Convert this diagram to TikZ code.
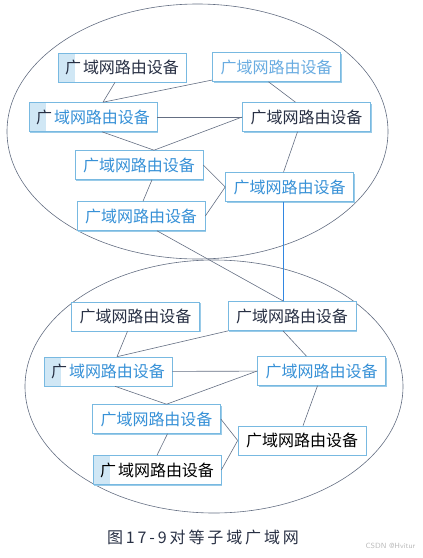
\documentclass[tikz,border=0pt]{standalone}
\usepackage{fontspec}
\newfontfamily\cjk{Noto Sans CJK SC}
\newfontfamily\cjkweit[LetterSpace=18]{Noto Sans CJK SC}
\usepackage{tikz}
\usetikzlibrary{shadows}

\definecolor{textblau}{RGB}{55,145,215}
\definecolor{textdunkel}{RGB}{40,48,68}
\definecolor{rahmen}{RGB}{120,185,225}
\definecolor{linie}{RGB}{100,110,130}
\definecolor{senkrecht}{RGB}{50,135,225}

\begin{document}
\begin{tikzpicture}[x=1pt,y=-1pt,line width=0.6pt,
  geraet/.style={draw=rahmen,fill=white,minimum width=128pt,minimum height=29pt,inner xsep=4pt,
    font=\cjk\fontsize{16}{18}\selectfont,
    general shadow={fill=rahmen!75,shadow xshift=1.2pt,shadow yshift=-1.2pt}},
  gblau/.style={geraet,text=textblau},
  gdunkel/.style={geraet,text=textdunkel},
  markiert/.style={path picture={\fill[rahmen!35] (path picture bounding box.north west) rectangle ([xshift=17pt]path picture bounding box.south west);}},
  verbindung/.style={draw=linie,line width=0.6pt},
  oval/.style={draw=linie,line width=0.6pt}]

\useasboundingbox (0,0) rectangle (423,558);

% Teilnetze als Ellipsen
\draw[oval] (197.5,131.5) ellipse [x radius=190.5pt, y radius=127.5pt];
\draw[oval] (214,386.5) ellipse [x radius=189pt, y radius=126.5pt];

% Geräte im oberen Teilnetz
\node[gdunkel,markiert] (o1) at (122,67.5) {广\hspace{2pt}域网路由设备};
\node[geraet,text=textblau!75] (o2) at (276.5,67) {广域网路由设备};
\node[gblau,markiert] (o3) at (93,117) {\textcolor{textdunkel}{广}\hspace{2pt}域网路由设备};
\node[gdunkel] (o4) at (306.5,117) {广域网路由设备};
\node[gblau] (o5) at (139,165) {广域网路由设备};
\node[gblau] (o6) at (289.5,187) {广域网路由设备};
\node[gblau] (o7) at (141,216) {广域网路由设备};

% Geräte im unteren Teilnetz
\node[gdunkel] (u1) at (135.5,316.5) {广域网路由设备};
\node[gdunkel] (u2) at (292,316) {广域网路由设备};
\node[gblau,markiert] (u3) at (108,371.5) {\textcolor{textdunkel}{广}\hspace{2pt}域网路由设备};
\node[gblau] (u4) at (321.5,371) {广域网路由设备};
\node[gblau] (u5) at (156.5,419) {广域网路由设备};
\node[gdunkel,text=black] (u6) at (302,440.5) {广域网路由设备};
\node[gdunkel,text=black,markiert] (u7) at (157,470) {广\hspace{2pt}域网路由设备};

% Knickpunkte, an denen zwei Leitungen zusammenlaufen
\coordinate (k1) at ([xshift=10pt]o3.north);
\coordinate (k2) at ([xshift=15pt]o5.north);
\coordinate (k4) at ([xshift=9pt]u3.north);
\coordinate (k5) at ([xshift=10pt]u5.north);
\coordinate (k6) at ([xshift=-8.5pt]u2.north);

% Leitungen oben
\path[verbindung]
  ([xshift=-7pt]o1.south) edge (k1)
  (o2) edge (k1)
  ([xshift=-8pt]o2.south) edge ([xshift=-11pt]o4.north)
  (o3) edge (o4)
  ([xshift=9pt]o3.south) edge (k2)
  (o4.west) edge (k2)
  ([xshift=-9pt]o4.south) edge ([xshift=-6pt]o6.north)
  (o5.east) edge (o6.west)
  (o7.east) edge (o6.west)
  ([xshift=13pt]o5.south) edge ([xshift=2pt]o7.north)
  ([xshift=16pt]o7.south) edge (k6);

% Verbindung zwischen den Teilnetzen
\draw[draw=senkrecht,line width=0.9pt] (o6.south -| k6) -- (k6);

% Leitungen unten
\path[verbindung]
  ([xshift=-8pt]u1.south) edge (k4)
  (u2) edge (k4)
  ([xshift=-9pt]u2.south) edge ([xshift=-15pt]u4.north)
  (u3) edge (u4)
  ([xshift=7pt]u3.south) edge (k5)
  (u4.west) edge (k5)
  ([xshift=-4pt]u4.south) edge ([xshift=1pt]u6.north)
  (u5.east) edge (u6.west)
  (u7.east) edge (u6.west)
  ([xshift=11pt]u5.south) edge (u7.north);

% Bildunterschrift
\node[font=\cjkweit\fontsize{16}{18}\selectfont,text=textdunkel] (titel) at (203,537) {图17-9对等子域广域网};
\node[anchor=east,font=\sffamily\fontsize{7.5}{9}\selectfont,text=gray!55] (wz) at (419,546) {CSDN @Hvitur};
\end{tikzpicture}
\end{document}
